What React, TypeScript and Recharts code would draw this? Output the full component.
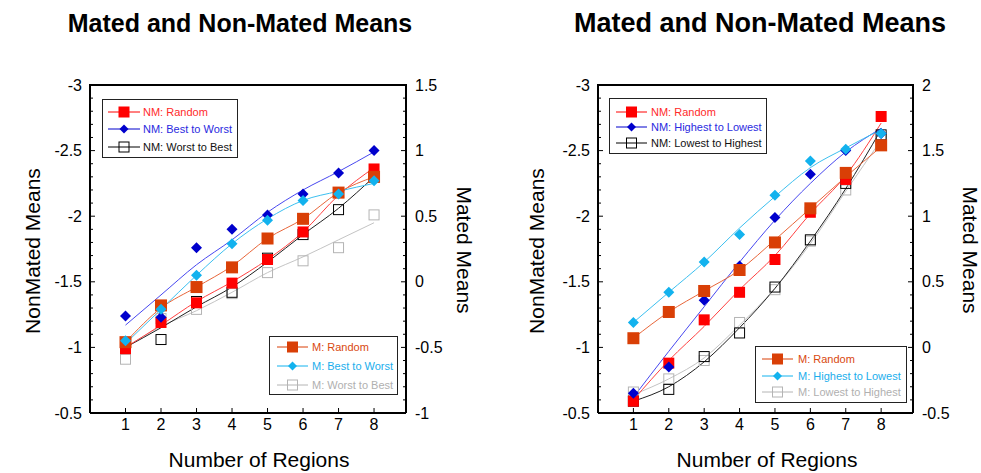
import React from 'react';
import { ComposedChart, Line, XAxis, YAxis } from 'recharts';

// ---------- data ----------
const regions = [1, 2, 3, 4, 5, 6, 7, 8];
const xTicks = [1, 2, 3, 4, 5, 6, 7, 8];
const nmTicks = [-3, -2.9, -2.8, -2.7, -2.6, -2.5, -2.4, -2.3, -2.2, -2.1, -2, -1.9, -1.8, -1.7, -1.6, -1.5, -1.4, -1.3, -1.2, -1.1, -1, -0.9, -0.8, -0.7, -0.6, -0.5];
const mTicksLeft = [-1, -0.9, -0.8, -0.7, -0.6, -0.5, -0.4, -0.3, -0.2, -0.1, 0, 0.1, 0.2, 0.3, 0.4, 0.5, 0.6, 0.7, 0.8, 0.9, 1, 1.1, 1.2, 1.3, 1.4, 1.5];
const mTicksRight = [-0.5, -0.4, -0.3, -0.2, -0.1, 0, 0.1, 0.2, 0.3, 0.4, 0.5, 0.6, 0.7, 0.8, 0.9, 1, 1.1, 1.2, 1.3, 1.4, 1.5, 1.6, 1.7, 1.8, 1.9, 2];

// left panel
const L_NM_RANDOM_PTS = [-0.99, -1.19, -1.34, -1.49, -1.67, -1.88, -2.18, -2.36];
const L_NM_RANDOM_FIT = [-1.0, -1.17, -1.35, -1.5, -1.67, -1.88, -2.16, -2.37];
const L_NM_B2W_PTS = [-1.24, -1.23, -1.76, -1.9, -2.01, -2.17, -2.33, -2.5];
const L_NM_B2W_FIT = [-1.17, -1.4, -1.63, -1.82, -2.03, -2.2, -2.34, -2.49];
const L_NM_W2B_PTS = [-1.02, -1.06, -1.35, -1.42, -1.68, -1.86, -2.05, -2.3];
const L_NM_W2B_FIT = [-1.0, -1.15, -1.31, -1.46, -1.65, -1.86, -2.06, -2.3];
const L_M_RANDOM_PTS = [-0.46, -0.18, -0.04, 0.11, 0.33, 0.48, 0.68, 0.8];
const L_M_RANDOM_FIT = [-0.46, -0.2, -0.04, 0.12, 0.33, 0.48, 0.68, 0.8];
const L_M_B2W_PTS = [-0.45, -0.21, 0.05, 0.29, 0.47, 0.62, 0.67, 0.77];
const L_M_B2W_FIT = [-0.47, -0.21, 0.05, 0.29, 0.48, 0.62, 0.69, 0.75];
const L_M_W2B_PTS = [-0.59, -0.28, -0.21, -0.09, 0.07, 0.16, 0.26, 0.51];
const L_M_W2B_FIT = [-0.5, -0.34, -0.22, -0.08, 0.07, 0.19, 0.32, 0.45];

// right panel
const R_NM_RANDOM_PTS = [-0.59, -0.88, -1.21, -1.42, -1.67, -2.03, -2.28, -2.76];
const R_NM_RANDOM_FIT = [-0.6, -0.9, -1.16, -1.44, -1.7, -2.02, -2.31, -2.71];
const R_NM_H2L_PTS = [-0.65, -0.85, -1.36, -1.62, -1.99, -2.32, -2.5, -2.63];
const R_NM_H2L_FIT = [-0.62, -0.97, -1.31, -1.65, -1.97, -2.25, -2.49, -2.67];
const R_NM_L2H_PTS = [-0.59, -0.68, -0.93, -1.11, -1.46, -1.82, -2.25, -2.62];
const R_NM_L2H_FIT = [-0.59, -0.7, -0.89, -1.15, -1.45, -1.81, -2.21, -2.66];
const R_M_RANDOM_PTS = [0.07, 0.27, 0.43, 0.59, 0.8, 1.06, 1.33, 1.54];
const R_M_RANDOM_FIT = [0.07, 0.27, 0.43, 0.59, 0.82, 1.06, 1.3, 1.53];
const R_M_H2L_PTS = [0.19, 0.42, 0.65, 0.86, 1.16, 1.42, 1.51, 1.63];
const R_M_H2L_FIT = [0.19, 0.42, 0.65, 0.91, 1.15, 1.37, 1.52, 1.66];
const R_M_L2H_PTS = [-0.34, -0.24, -0.1, 0.19, 0.44, 0.81, 1.2, 1.59];
const R_M_L2H_FIT = [-0.36, -0.24, -0.08, 0.17, 0.45, 0.79, 1.19, 1.58];

const leftLabels = ['NM: Random', 'NM: Best to Worst', 'NM: Worst to Best', 'M: Random', 'M: Best to Worst', 'M: Worst to Best'];
const rightLabels = ['NM: Random', 'NM: Highest to Lowest', 'NM: Lowest to Highest', 'M: Random', 'M: Highest to Lowest', 'M: Lowest to Highest'];

// ---------- styles ----------
const FONT = '"Liberation Sans", Arial, Helvetica, sans-serif';
const FRAME = '#000000';
const FRAME_W = 2;
const C = {
  nmRandom: '#ff0000',
  nmRandomLine: '#ff4040',
  nmBlue: '#0000cc',
  nmBlueLine: '#4848f0',
  nmBlack: '#000000',
  nmBlackLine: '#202020',
  mRandom: '#d93f06',
  mRandomLine: '#e8663a',
  mBlue: '#12b2ee',
  mBlueLine: '#3cc0f0',
  mGray: '#b4b4b4',
  mGrayLine: '#c4c4c4',
};

type Kind = 'square' | 'diamond' | 'open';

function Marker({ kind, cx, cy, color, size }: { kind: Kind; cx: number; cy: number; color: string; size: number }) {
  const h = size / 2;
  if (kind === 'square') return <rect x={cx - h} y={cy - h} width={size} height={size} fill={color} />;
  if (kind === 'diamond')
    return <polygon points={`${cx},${cy - h} ${cx + h},${cy} ${cx},${cy + h} ${cx - h},${cy}`} fill={color} />;
  return <rect x={cx - h + 0.5} y={cy - h + 0.5} width={size - 1} height={size - 1} fill="none" stroke={color} strokeWidth={1} />;
}

const makeDot = (kind: Kind, color: string, size: number) => (p: any) => {
  const { cx, cy, index } = p;
  if (cx == null || cy == null) return <g key={`e-${index}`} />;
  return (
    <g key={`d-${index}`}>
      <Marker kind={kind} cx={cx} cy={cy} color={color} size={size} />
    </g>
  );
};

const isMajor = (v: number) => Math.abs(v * 2 - Math.round(v * 2)) < 1e-6;
const fmt = (v: number) => String(Math.round(v * 10) / 10);

const TM_L = 8;
const TM_R = 9;
const TM_B = 5;

const LeftTick = (props: any) => {
  const { x, y, payload } = props;
  const v = payload.value;
  const major = isMajor(v);
  const ax = x + TM_L;
  return (
    <g>
      <line x1={ax} x2={ax + (major ? 5 : 3)} y1={y} y2={y} stroke="#000" />
      {major && (
        <text x={x} y={y} dy={5.5} textAnchor="end" fontSize={16} fontFamily={FONT} fill="#000">
          {fmt(v)}
        </text>
      )}
    </g>
  );
};

const RightTick = (props: any) => {
  const { x, y, payload } = props;
  const v = payload.value;
  const major = isMajor(v);
  const ax = x - TM_R;
  return (
    <g>
      <line x1={ax} x2={ax - (major ? 5 : 3)} y1={y} y2={y} stroke="#000" />
      {major && (
        <text x={x} y={y} dy={5.5} textAnchor="start" fontSize={16} fontFamily={FONT} fill="#000">
          {fmt(v)}
        </text>
      )}
    </g>
  );
};

const BottomTick = (props: any) => {
  const { x, y, payload } = props;
  const ay = y - TM_B;
  return (
    <g>
      <line x1={x} x2={x} y1={ay} y2={ay - 5} stroke="#000" />
      <text x={x} y={y} dy={12} textAnchor="middle" fontSize={16} fontFamily={FONT} fill="#000">
        {payload.value}
      </text>
    </g>
  );
};

type SeriesDef = {
  pts: number[];
  fit: number[];
  axis: 'nm' | 'm';
  kind: Kind;
  color: string;
  line: string;
  size: number;
};

function Panel({
  series,
  mDomain,
  mTicks,
  width,
  margin,
}: {
  series: SeriesDef[];
  mDomain: [number, number];
  mTicks: number[];
  width: number;
  margin: { top: number; left: number; right: number; bottom: number };
}) {
  const data = regions.map((x, i) => {
    const row: any = { x };
    series.forEach((s, k) => {
      row[`p${k}`] = s.pts[i];
      row[`f${k}`] = s.fit[i];
    });
    return row;
  });
  const axisLine = { stroke: FRAME, strokeWidth: FRAME_W };
  return (
    <ComposedChart width={width} height={470} data={data} margin={margin}>
      <XAxis
        dataKey="x"
        type="number"
        domain={[0, 8.9]}
        ticks={xTicks}
        interval={0}
        height={30}
        tickSize={0}
        tickMargin={TM_B}
        tick={<BottomTick />}
        axisLine={axisLine}
        tickLine={false}
        allowDataOverflow
      />
      <YAxis
        yAxisId="nm"
        orientation="left"
        type="number"
        domain={[-3, -0.5]}
        reversed
        ticks={nmTicks}
        interval={0}
        width={50}
        tickSize={0}
        tickMargin={TM_L}
        tick={<LeftTick />}
        axisLine={axisLine}
        tickLine={false}
        allowDataOverflow
      />
      <YAxis
        yAxisId="m"
        orientation="right"
        type="number"
        domain={mDomain}
        ticks={mTicks}
        interval={0}
        width={50}
        tickSize={0}
        tickMargin={TM_R}
        tick={<RightTick />}
        axisLine={axisLine}
        tickLine={false}
        allowDataOverflow
      />
      {series.map((s, k) => (
        <Line
          key={`f${k}`}
          yAxisId={s.axis}
          dataKey={`f${k}`}
          type="monotone"
          stroke={s.line}
          strokeWidth={1}
          dot={false}
          activeDot={false}
          isAnimationActive={false}
          legendType="none"
        />
      ))}
      {series.map((s, k) => (
        <Line
          key={`p${k}`}
          yAxisId={s.axis}
          dataKey={`p${k}`}
          stroke="none"
          strokeWidth={0}
          dot={makeDot(s.kind, s.color, s.size)}
          activeDot={false}
          isAnimationActive={false}
          legendType="none"
        />
      ))}
    </ComposedChart>
  );
}

function LegendBox({
  left,
  top,
  width,
  height,
  items,
  lineX1,
  lineX2,
  textX,
  rowYs,
}: {
  left: number;
  top: number;
  width: number;
  height: number;
  items: { label: string; kind: Kind; color: string; text: string; size: number }[];
  lineX1: number;
  lineX2: number;
  textX: number;
  rowYs: number[];
}) {
  return (
    <div
      style={{
        position: 'absolute',
        left,
        top,
        width,
        height,
        boxSizing: 'border-box',
        border: '1px solid #222',
        background: '#fff',
      }}
    >
      <svg width={width - 2} height={height - 2} style={{ position: 'absolute', left: 0, top: 0 }}>
        {items.map((it, i) => {
          const y = rowYs[i] - top - 1;
          const x1 = lineX1 - left - 1;
          const x2 = lineX2 - left - 1;
          const cx = (x1 + x2) / 2;
          return (
            <g key={i}>
              <line x1={x1} x2={x2} y1={y} y2={y} stroke={it.color} strokeWidth={1} />
              <Marker kind={it.kind} cx={cx} cy={y} color={it.color} size={it.size} />
              <text x={textX - left - 1} y={y} dy={4} fontSize={11} fontFamily={FONT} fill={it.text}>
                {it.label}
              </text>
            </g>
          );
        })}
      </svg>
    </div>
  );
}

const textBase: React.CSSProperties = {
  position: 'absolute',
  fontFamily: FONT,
  color: '#000',
  whiteSpace: 'nowrap',
  lineHeight: 1,
};

function CenterText({ x, y, size, bold, rotate, children }: any) {
  return (
    <div
      style={{
        ...textBase,
        left: x,
        top: y,
        fontSize: size,
        fontWeight: bold ? 700 : 400,
        transform: `translate(-50%, -50%) rotate(${rotate || 0}deg)`,
      }}
    >
      {children}
    </div>
  );
}

function TopFrame({ left, width }: { left: number; width: number }) {
  return (
    <svg width={width + 2} height={4} style={{ position: 'absolute', left: left - 1, top: 83 }}>
      <line x1={0} x2={width + 2} y1={2} y2={2} stroke={FRAME} strokeWidth={FRAME_W} />
    </svg>
  );
}

export default function App() {
  const leftSeries: SeriesDef[] = [
    { pts: L_M_W2B_PTS, fit: L_M_W2B_FIT, axis: 'm', kind: 'open', color: C.mGray, line: C.mGrayLine, size: 11 },
    { pts: L_NM_W2B_PTS, fit: L_NM_W2B_FIT, axis: 'nm', kind: 'open', color: C.nmBlack, line: C.nmBlackLine, size: 11 },
    { pts: L_NM_RANDOM_PTS, fit: L_NM_RANDOM_FIT, axis: 'nm', kind: 'square', color: C.nmRandom, line: C.nmRandomLine, size: 11 },
    { pts: L_NM_B2W_PTS, fit: L_NM_B2W_FIT, axis: 'nm', kind: 'diamond', color: C.nmBlue, line: C.nmBlueLine, size: 11 },
    { pts: L_M_RANDOM_PTS, fit: L_M_RANDOM_FIT, axis: 'm', kind: 'square', color: C.mRandom, line: C.mRandomLine, size: 12 },
    { pts: L_M_B2W_PTS, fit: L_M_B2W_FIT, axis: 'm', kind: 'diamond', color: C.mBlue, line: C.mBlueLine, size: 11 },
  ];
  const rightSeries: SeriesDef[] = [
    { pts: R_M_L2H_PTS, fit: R_M_L2H_FIT, axis: 'm', kind: 'open', color: C.mGray, line: C.mGrayLine, size: 11 },
    { pts: R_NM_L2H_PTS, fit: R_NM_L2H_FIT, axis: 'nm', kind: 'open', color: C.nmBlack, line: C.nmBlackLine, size: 11 },
    { pts: R_NM_RANDOM_PTS, fit: R_NM_RANDOM_FIT, axis: 'nm', kind: 'square', color: C.nmRandom, line: C.nmRandomLine, size: 11 },
    { pts: R_NM_H2L_PTS, fit: R_NM_H2L_FIT, axis: 'nm', kind: 'diamond', color: C.nmBlue, line: C.nmBlueLine, size: 11 },
    { pts: R_M_RANDOM_PTS, fit: R_M_RANDOM_FIT, axis: 'm', kind: 'square', color: C.mRandom, line: C.mRandomLine, size: 12 },
    { pts: R_M_H2L_PTS, fit: R_M_H2L_FIT, axis: 'm', kind: 'diamond', color: C.mBlue, line: C.mBlueLine, size: 11 },
  ];

  const nmItems = (labels: string[]) => [
    { label: labels[0], kind: 'square' as Kind, color: C.nmRandom, text: '#ff2a2a', size: 11 },
    { label: labels[1], kind: 'diamond' as Kind, color: C.nmBlue, text: '#2a2ae0', size: 9 },
    { label: labels[2], kind: 'open' as Kind, color: C.nmBlack, text: '#111', size: 11 },
  ];
  const mItems = (labels: string[]) => [
    { label: labels[3], kind: 'square' as Kind, color: C.mRandom, text: '#d9480f', size: 11 },
    { label: labels[4], kind: 'diamond' as Kind, color: C.mBlue, text: '#1aaeec', size: 9 },
    { label: labels[5], kind: 'open' as Kind, color: C.mGray, text: '#b0b0b0', size: 11 },
  ];

  return (
    <div style={{ position: 'relative', width: 981, height: 473, overflow: 'hidden', background: '#fff' }}>
      <style>{`body{margin:0;overflow:hidden;}`}</style>
      <div style={{ position: 'absolute', left: 0, top: 0 }}>
        <Panel
          series={leftSeries}
          mDomain={[-1, 1.5]}
          mTicks={mTicksLeft}
          width={490}
          margin={{ top: 85, left: 40, right: 34, bottom: 27 }}
        />
      </div>
      <div style={{ position: 'absolute', left: 490, top: 0 }}>
        <Panel
          series={rightSeries}
          mDomain={[-0.5, 2]}
          mTicks={mTicksRight}
          width={491}
          margin={{ top: 85, left: 58, right: 18, bottom: 27 }}
        />
      </div>
      <TopFrame left={90} width={316} />
      <TopFrame left={598} width={315} />

      <CenterText x={240} y={23} size={25} bold>Mated and Non-Mated Means</CenterText>
      <CenterText x={760} y={23} size={27} bold>Mated and Non-Mated Means</CenterText>
      <CenterText x={259} y={459} size={21}>Number of Regions</CenterText>
      <CenterText x={767} y={459} size={21}>Number of Regions</CenterText>
      <CenterText x={32} y={251} size={21} rotate={-90}>NonMated Means</CenterText>
      <CenterText x={536} y={251} size={21} rotate={-90}>NonMated Means</CenterText>
      <CenterText x={464} y={250} size={21} rotate={90}>Mated Means</CenterText>
      <CenterText x={970} y={250} size={21} rotate={90}>Mated Means</CenterText>

      <LegendBox left={102} top={99} width={136} height={59} items={nmItems(leftLabels)} lineX1={108} lineX2={140} textX={143} rowYs={[112, 129, 147]} />
      <LegendBox left={269} top={336} width={129} height={59} items={mItems(leftLabels)} lineX1={277} lineX2={308} textX={312} rowYs={[347, 366, 385]} />
      <LegendBox left={609} top={98} width={158} height={56} items={nmItems(rightLabels)} lineX1={616} lineX2={647} textX={651} rowYs={[112, 127, 143]} />
      <LegendBox left={755} top={346} width={152} height={57} items={mItems(rightLabels)} lineX1={762} lineX2={793} textX={798} rowYs={[359, 376, 392]} />
    </div>
  );
}
